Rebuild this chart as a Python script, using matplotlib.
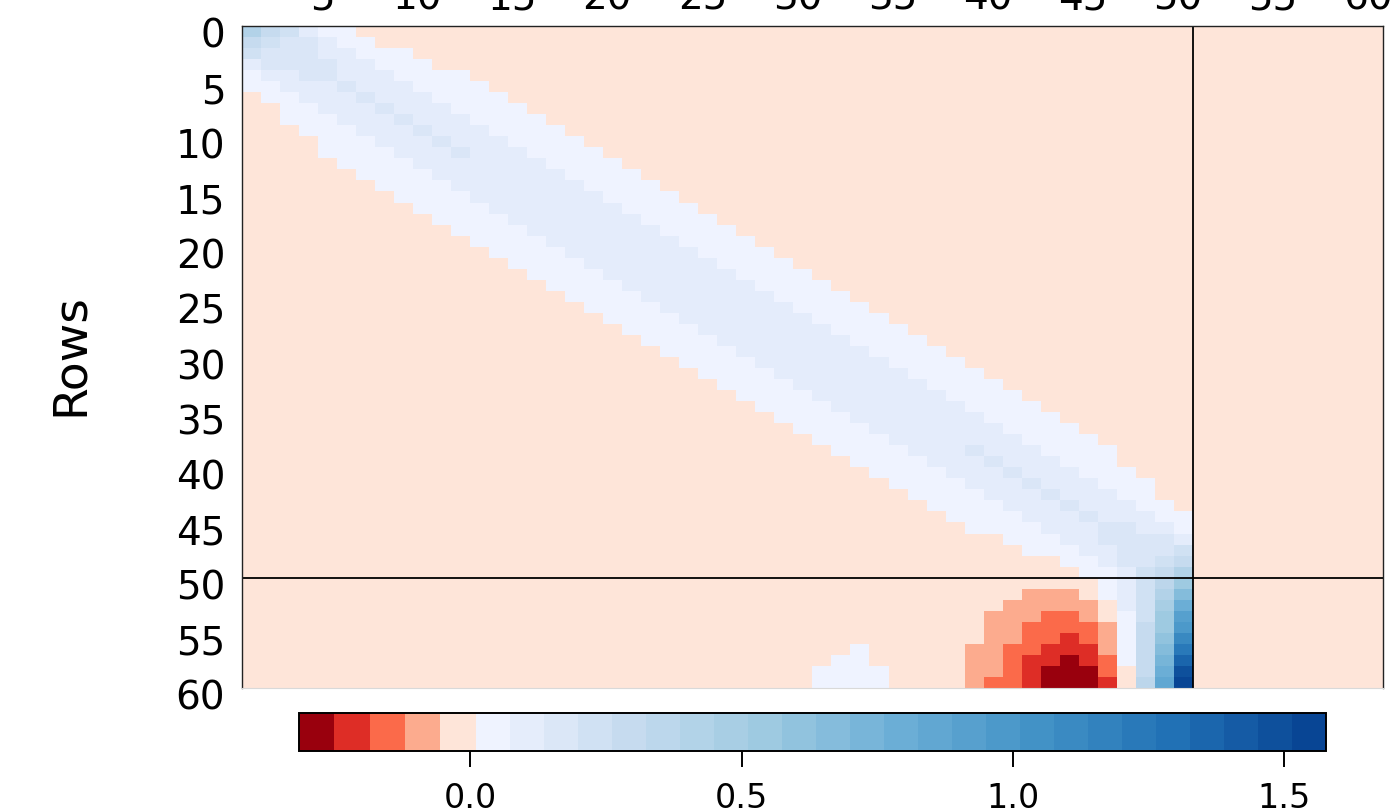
import numpy as np
import matplotlib
matplotlib.use("Agg")
import matplotlib.pyplot as plt
from matplotlib.colors import ListedColormap, BoundaryNorm, to_rgb
from matplotlib.transforms import ScaledTranslation

# ---------------- data ----------------
N_ROWS = 60
N_COLS = 60
Y_TICKS = list(range(0, 61, 5))
X_TICKS = list(range(5, 61, 5))
CBAR_TICKS = [0.0, 0.5, 1.0, 1.5]
CBAR_LABELS = ["0.0", "0.5", "1.0", "1.5"]

# colour-bin boundaries of the legend (5 negative bins, 25 positive bins)
RED_BREAKS = np.linspace(-0.316, 0.0096, 6)
BLUE_BREAKS = np.linspace(0.0096, 1.5775, 26)
BOUNDS = np.concatenate([RED_BREAKS, BLUE_BREAKS[1:]])

# bin code per cell: index in CODES = colour bin (0..29); '.' = background bin
CODES = "dcba.123456789ABCDEFGHIJKLMNOP"

# (first column, codes) for every row; all other cells are background '.'
ROW_BANDS = [
    (0, "754211"),
    (0, "5433211"),
    (0, "433322111"),
    (0, "2333322111"),
    (0, "122332221111"),
    (0, "1122232221111"),
    (1, "1122232221111"),
    (2, "1122232221111"),
    (2, "11122232221111"),
    (3, "11122232221111"),
    (4, "11122232221111"),
    (4, "111122232221111"),
    (5, "111122222221111"),
    (6, "111122222221111"),
    (7, "111122222221111"),
    (8, "111122222221111"),
    (9, "111122222221111"),
    (10, "111122222221111"),
    (11, "111122222221111"),
    (12, "111122222221111"),
    (13, "111122222221111"),
    (14, "111122222221111"),
    (15, "111122222221111"),
    (16, "111122222221111"),
    (17, "111122222221111"),
    (18, "111122222221111"),
    (19, "111122222221111"),
    (20, "111122222221111"),
    (21, "111122222221111"),
    (22, "111122222221111"),
    (23, "111122222221111"),
    (24, "111122222221111"),
    (25, "111122222221111"),
    (26, "111122222221111"),
    (27, "111122222221111"),
    (28, "111122222221111"),
    (29, "111122222221111"),
    (30, "111122222221111"),
    (31, "111122232221111"),
    (32, "11112223222111"),
    (33, "11112223222111"),
    (34, "11112223222111"),
    (35, "1111222322211"),
    (36, "1111222322211"),
    (37, "1111222322211"),
    (38, "111122233221"),
    (40, "1112233332"),
    (41, "111223334"),
    (43, "1123345"),
    (44, "112457"),
    (45, "12469"),
    (41, "aaa.1247B"),
    (40, "aaaaa.248D"),
    (39, "aaabba.149F"),
    (39, "aabbbba159G"),
    (39, "aabbcba15AI"),
    (32, "1.....aabbccca15BK"),
    (31, "11.....aabccdcb15CM"),
    (30, "1111....aabcdddb.5DO"),
    (30, "1111....abbcdddc.6EP"),
]

# ---------------- colours ----------------
RED_COLORS = ["#99000D", "#DE2D26", "#FB6A4A", "#FCAB8E", "#FEE5D9"]
BLUE_ANCHORS = ["#EFF3FF", "#C6DBEF", "#9ECAE1", "#6BAED6",
                "#4292C6", "#2171B5", "#084594"]
anch = np.array([to_rgb(c) for c in BLUE_ANCHORS])
tpos = np.linspace(0, len(anch) - 1, 25)
blue_cols = [tuple(np.interp(t, np.arange(len(anch)), anch[:, k]) for k in range(3))
             for t in tpos]
cmap = ListedColormap(RED_COLORS + blue_cols)
norm = BoundaryNorm(BOUNDS, cmap.N)

centers = (BOUNDS[:-1] + BOUNDS[1:]) / 2
M = np.full((N_ROWS, N_COLS), centers[CODES.index(".")])
for r, (start, band) in enumerate(ROW_BANDS):
    for k, ch in enumerate(band):
        M[r, start + k] = centers[CODES.index(ch)]

# ---------------- figure ----------------
W, H = 1399, 810
fig = plt.figure(figsize=(W / 100, H / 100), dpi=100)
plt.rcParams["font.family"] = ["DejaVu Sans"]

ax = fig.add_axes([242 / W, 1 - 688 / H, 1141 / W, 662 / H])
im = ax.imshow(M, cmap=cmap, norm=norm, extent=(0, N_COLS, N_ROWS, 0),
               aspect="auto", interpolation="nearest")
ax.axhline(50, color="black", lw=1.3)
ax.axvline(50, color="black", lw=1.3)
ax.set_xlim(0, N_COLS)
ax.set_ylim(N_ROWS, 0)

ax.set_yticks(Y_TICKS)
ax.set_yticklabels([str(v) for v in Y_TICKS])
ax.xaxis.tick_top()
ax.set_xticks(X_TICKS)
ax.set_xticklabels([str(v) for v in X_TICKS])
ax.tick_params(axis="y", length=0, pad=12, labelsize=28)
ax.tick_params(axis="x", length=0, pad=6, labelsize=28)
for lbl in ax.get_yticklabels():
    lbl.set_transform(lbl.get_transform() + ScaledTranslation(0, -0.07, fig.dpi_scale_trans))
for lbl in ax.get_xticklabels():
    lbl.set_transform(lbl.get_transform() + ScaledTranslation(-0.15, 0, fig.dpi_scale_trans))
for s in ["top", "left", "right"]:
    ax.spines[s].set_color("#222222")
    ax.spines[s].set_linewidth(1.0)
ax.spines["bottom"].set_color("#d9d9d9")

fig.text(70 / W, 1 - 355 / H, "Rows", rotation=90, ha="center", va="center",
         fontsize=34)

cax = fig.add_axes([299 / W, 1 - 751 / H, 1027 / W, 38 / H])
cb = fig.colorbar(im, cax=cax, orientation="horizontal", spacing="proportional",
                  ticks=CBAR_TICKS)
cb.ax.minorticks_off()
cb.ax.set_xticklabels(CBAR_LABELS)
cb.ax.tick_params(which="major", length=11.5, width=1.4, pad=11, labelsize=24)
cb.ax.tick_params(which="minor", length=0)
cb.outline.set_linewidth(1.4)

fig.savefig("out.png", dpi=100)
